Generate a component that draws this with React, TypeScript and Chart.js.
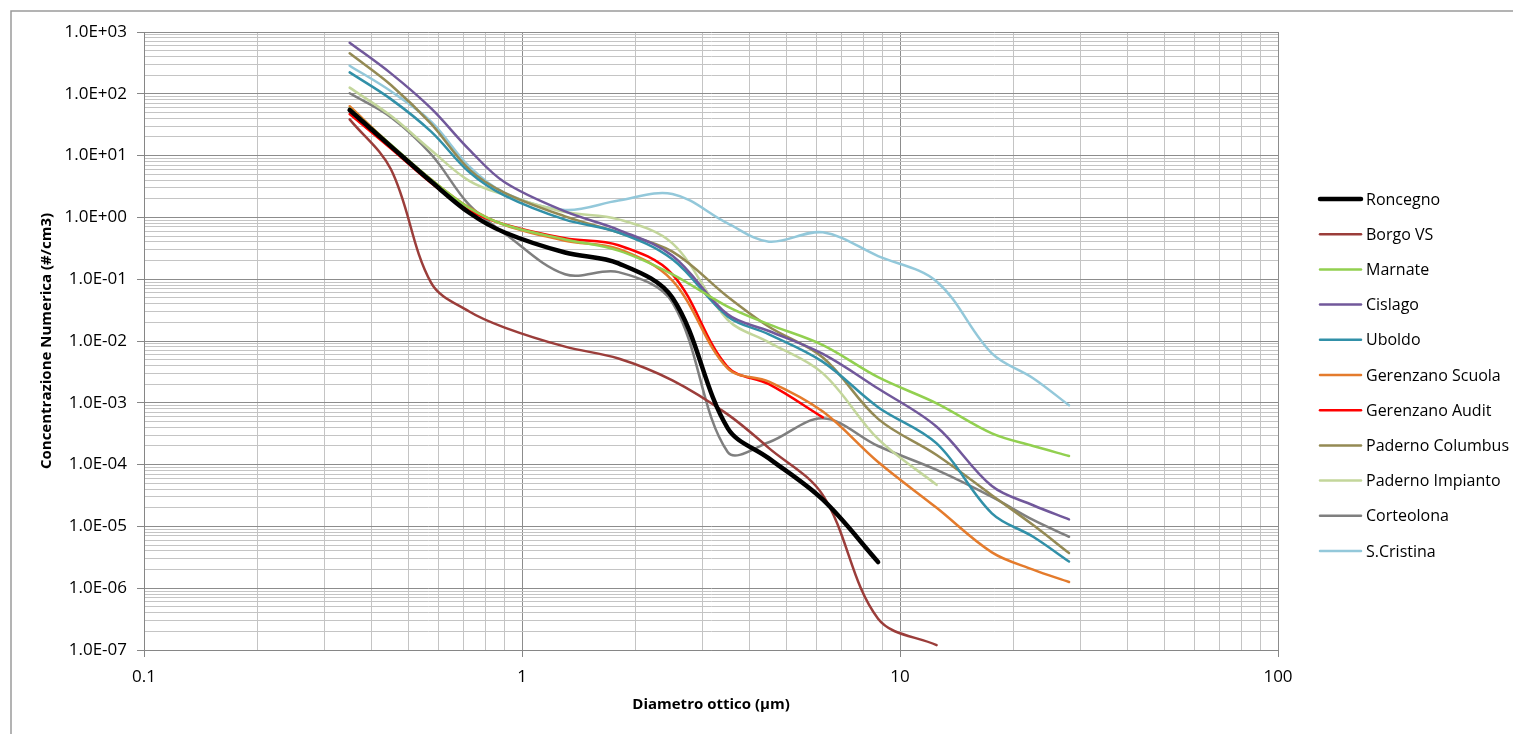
import React, { useEffect, useRef } from 'react';
import { Chart, registerables } from 'chart.js';

Chart.register(...registerables);

// Optical diameter (µm) at which each size channel is plotted
const diameters = [0.35, 0.45, 0.575, 0.725, 0.9, 1.3, 1.8, 2.5, 3.5, 4.5, 6.25, 8.75, 12.5, 17.5, 22.5, 28];

const seriesNames = [
  'Roncegno', 'Borgo VS', 'Marnate', 'Cislago', 'Uboldo', 'Gerenzano Scuola',
  'Gerenzano Audit', 'Paderno Columbus', 'Paderno Impianto', 'Corteolona', 'S.Cristina',
];

// Number concentration (#/cm3) per channel
const roncegno = [54.7, 14.1, 3.8, 1.19, 0.57, 0.27, 0.18, 0.05, 3.9e-4, 1.26e-4, 2.7e-5, 2.65e-6];
const borgoVS = [38.6, 6.0, 0.087, 0.030, 0.0165, 0.0081, 0.0052, 0.0023, 6.5e-4, 1.85e-4, 3.2e-5, 3.2e-7, 1.2e-7];
const marnate = [58, 15, 4.1, 1.42, 0.76, 0.44, 0.29, 0.12, 0.036, 0.0186, 0.0086, 0.0026, 9.8e-4, 3.2e-4, 2.0e-4, 1.38e-4];
const cislago = [671, 214, 58, 12.5, 3.7, 1.25, 0.63, 0.24, 0.027, 0.0145, 0.0062, 0.0017, 4.1e-4, 4.5e-5, 2.2e-5, 1.3e-5];
const uboldo = [222, 82, 24.4, 5.4, 2.25, 0.92, 0.57, 0.21, 0.025, 0.0128, 0.0046, 8.5e-4, 2.2e-4, 1.63e-5, 6.8e-6, 2.7e-6];
const gerenzanoScuola = [63, 14.8, 4.1, 1.44, 0.75, 0.42, 0.31, 0.095, 0.0036, 0.0022, 7.2e-4, 1.1e-4, 2.0e-5, 3.8e-6, 2.0e-6, 1.26e-6];
const gerenzanoAudit = [47, 13.0, 3.6, 1.3, 0.77, 0.46, 0.355, 0.12, 0.0038, 0.002, 5.8e-4];
const padernoColumbus = [452, 139, 32.5, 6.0, 2.5, 1.04, 0.57, 0.28, 0.052, 0.017, 0.0054, 5.5e-4, 1.43e-4, 3.2e-5, 1.05e-5, 3.7e-6];
const padernoImpianto = [126, 44, 12.2, 3.9, 2.3, 1.22, 0.93, 0.38, 0.022, 0.0095, 0.003, 2.6e-4, 4.7e-5];
const corteolona = [102, 41.9, 10.5, 1.59, 0.55, 0.12, 0.13, 0.042, 1.6e-4, 2.3e-4, 5.6e-4, 2.0e-4, 8.2e-5, 3.0e-5, 1.27e-5, 6.8e-6];
const sCristina = [285, 110, 35.4, 6.7, 2.5, 1.32, 1.87, 2.4, 0.80, 0.405, 0.573, 0.237, 0.092, 0.0063, 0.0025, 9.1e-4];

const seriesValues = [
  roncegno, borgoVS, marnate, cislago, uboldo, gerenzanoScuola,
  gerenzanoAudit, padernoColumbus, padernoImpianto, corteolona, sCristina,
];

const seriesColors = [
  '#000000', '#9B3D3A', '#92D050', '#71589B', '#3190A8', '#E47B2C',
  '#FF0000', '#948A54', '#C3D69B', '#7F7F7F', '#93C8DA',
];
const seriesWidths = [4.5, 2.5, 2.5, 2.5, 2.5, 2.5, 2.5, 2.5, 2.5, 2.5, 2.5];

const X_MIN = 0.1;
const X_MAX = 100;
const Y_MIN = 1e-7;
const Y_MAX = 1e3;

const FONT = "'Open Sans', sans-serif";

function logTicks(min: number, max: number) {
  const out: { value: number }[] = [];
  const e0 = Math.round(Math.log10(min));
  const e1 = Math.round(Math.log10(max));
  for (let e = e0; e < e1; e++) {
    for (let s = 1; s <= 9; s++) {
      out.push({ value: parseFloat((s * Math.pow(10, e)).toPrecision(12)) });
    }
  }
  out.push({ value: max });
  return out;
}

function isDecade(v: number) {
  const l = Math.log10(v);
  return Math.abs(l - Math.round(l)) < 1e-9;
}

function sci(v: number) {
  const e = Math.round(Math.log10(v));
  const sign = e < 0 ? '-' : '+';
  return '1.0E' + sign + String(Math.abs(e)).padStart(2, '0');
}

const framePlugin = {
  id: 'frameAndLegend',
  beforeDraw(chart: any) {
    const ctx = chart.ctx;
    ctx.save();
    ctx.fillStyle = '#ffffff';
    ctx.fillRect(0, 0, chart.width, chart.height);
    ctx.strokeStyle = '#9A9A9A';
    ctx.lineWidth = 1.5;
    ctx.beginPath();
    ctx.moveTo(11, chart.height + 2);
    ctx.lineTo(11, 11);
    ctx.lineTo(chart.width + 2, 11);
    ctx.stroke();
    ctx.restore();
  },
  afterDraw(chart: any) {
    const ctx = chart.ctx;
    const x0 = 1320;
    const x1 = 1361;
    const top = 199;
    const step = 35.2;
    ctx.save();
    chart.data.datasets.forEach((ds: any, i: number) => {
      const y = top + i * step;
      ctx.strokeStyle = ds.borderColor;
      ctx.lineWidth = ds.borderWidth;
      ctx.lineCap = 'round';
      ctx.beginPath();
      ctx.moveTo(x0, y);
      ctx.lineTo(x1, y);
      ctx.stroke();
      ctx.fillStyle = '#000000';
      ctx.font = `16px ${FONT}`;
      ctx.textBaseline = 'middle';
      ctx.textAlign = 'left';
      ctx.fillText(ds.label, x1 + 5, y + 1);
    });
    ctx.restore();
  },
};

export default function App() {
  const ref = useRef<HTMLCanvasElement>(null);

  useEffect(() => {
    const canvas = ref.current;
    if (!canvas) return;

    const datasets = seriesNames.map((name, i) => ({
      label: name,
      data: seriesValues[i].map((v, j) => ({ x: diameters[j], y: v })),
      borderColor: seriesColors[i],
      backgroundColor: seriesColors[i],
      borderWidth: seriesWidths[i],
      pointRadius: 0,
      pointHoverRadius: 0,
      tension: 0.35,
      fill: false,
      borderCapStyle: 'round' as const,
      borderJoinStyle: 'round' as const,
    }));

    const gridColor = (ctx: any) => (ctx.tick && isDecade(ctx.tick.value) ? '#8C8C8C' : '#C4C4C4');
    const tickColor = (ctx: any) => (ctx.tick && isDecade(ctx.tick.value) ? '#868686' : 'rgba(0,0,0,0)');

    const chart = new Chart(canvas, {
      type: 'line',
      data: { datasets },
      plugins: [framePlugin],
      options: {
        animation: false,
        responsive: false,
        maintainAspectRatio: false,
        events: [],
        layout: { padding: { left: 0, top: 32, right: 235, bottom: 0 } },
        plugins: {
          legend: { display: false },
          tooltip: { enabled: false },
          title: { display: false },
        },
        scales: {
          x: {
            type: 'logarithmic',
            min: X_MIN,
            max: X_MAX,
            afterBuildTicks: (scale: any) => { scale.ticks = logTicks(X_MIN, X_MAX); },
            afterFit: (scale: any) => { scale.height = 84; },
            grid: { color: gridColor, tickColor, tickLength: 7, lineWidth: 1 },
            border: { color: '#868686', width: 1 },
            ticks: {
              autoSkip: false,
              maxRotation: 0,
              minRotation: 0,
              padding: 10,
              color: '#000000',
              font: { family: FONT, size: 17 },
              callback: (v: any) => {
                const n = Number(v);
                if (!isDecade(n)) return '';
                return n >= 1 ? String(Math.round(n)) : String(parseFloat(n.toPrecision(6)));
              },
            },
            title: {
              display: true,
              text: 'Diametro ottico (µm)',
              color: '#000000',
              font: { family: FONT, size: 15, weight: 'bold' },
              padding: { top: 0, bottom: 20 },
            },
          },
          y: {
            type: 'logarithmic',
            min: Y_MIN,
            max: Y_MAX,
            afterBuildTicks: (scale: any) => { scale.ticks = logTicks(Y_MIN, Y_MAX); },
            afterFit: (scale: any) => { scale.width = 144; },
            grid: { color: gridColor, tickColor, tickLength: 7, lineWidth: 1 },
            border: { color: '#868686', width: 1 },
            ticks: {
              autoSkip: false,
              padding: 10,
              color: '#000000',
              font: { family: FONT, size: 17 },
              callback: (v: any) => {
                const n = Number(v);
                return isDecade(n) ? sci(n) : '';
              },
            },
            title: {
              display: true,
              text: 'Concentrazione Numerica (#/cm3)',
              color: '#000000',
              font: { family: FONT, size: 15, weight: 'bold' },
              padding: { top: 38, bottom: 0 },
            },
          },
        },
      } as any,
    });

    return () => chart.destroy();
  }, []);

  return (
    <div style={{ position: 'fixed', left: 0, top: 0, width: 1513, height: 734, background: '#ffffff', overflow: 'hidden' }}>
      <canvas ref={ref} width={1513} height={734} style={{ display: 'block', width: 1513, height: 734 }} />
    </div>
  );
}
